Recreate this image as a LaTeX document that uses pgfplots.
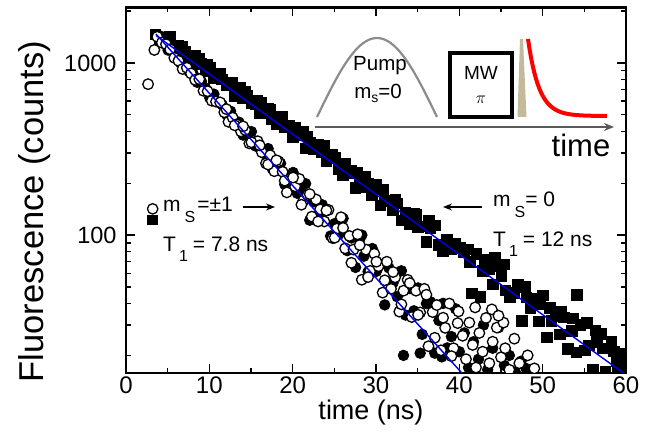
\documentclass[border=0pt]{standalone}
\usepackage{pgfplots}
\pgfplotsset{compat=1.18}
\usepackage{fontspec}
\setmainfont{Liberation Sans}
\usetikzlibrary{arrows.meta}
\definecolor{fitblue}{RGB}{0,0,235}
\definecolor{pumpgray}{RGB}{140,140,140}
\definecolor{spikecol}{RGB}{195,185,155}
\newcommand{\fs}[1]{\fontsize{#1}{#1}\selectfont}
\begin{document}
\begin{tikzpicture}[x=1pt,y=1pt]
\useasboundingbox (-126,-66) rectangle (525,373);
\begin{axis}[
  at={(0,0)}, anchor=south west,
  scale only axis, width=500pt, height=365.5pt,
  xmin=0, xmax=60, ymode=log, ymin=15.8, ymax=2100,
  xtick={0,10,20,30,40,50,60}, minor xtick={5,15,25,35,45,55},
  ytick={100,1000}, yticklabels={100,1000},
  minor ytick={20,30,40,50,60,70,80,90,200,300,400,500,600,700,800,900,2000},
  tick align=inside, tick pos=both,
  major tick length=9pt, minor tick length=5pt,
  every tick/.append style={black, line width=1.5pt},
  every minor tick/.append style={black, line width=1.3pt},
  axis line style={line width=2.2pt},
  /pgf/number format/assume math mode=true,
  xticklabel style={font=\fs{24}},
  yticklabel style={font=\fs{23.5}, xshift=-6pt},
  clip marker paths=true,
]
% m_S = 0 (squares)
\addplot[only marks, mark=square*, mark size=5.3pt, mark options={fill=black, draw=black, line width=0.2pt}] coordinates {
(3.5,1470)(4.0,1359)(4.5,1412)(5.0,1385)(5.5,1264)(6.0,1196)(6.5,1182)(7.0,1174)(7.5,1035)(8.0,1062)
(8.5,998)(9.0,992)(9.5,905)(10.0,944)(10.5,817)(11.0,821)(11.5,805)(12.0,743)(12.5,754)(13.0,648)
(13.5,681)(14.0,624)(14.5,651)(15.0,587)(15.5,576)(16.0,516)(16.5,545)(17.0,542)(17.5,473)(18.0,445)
(18.5,467)(19.0,427)(19.5,435)(20.0,374)(20.5,387)(21.0,380)(21.5,320)(22.0,345)(22.5,317)(23.0,337)
(23.5,305)(24.0,269)(24.5,289)(25.0,282)(25.5,242)(26.0,224)(26.5,230)(27.0,238)(27.5,188)(28.0,210)
(28.5,192)(29.0,199)(29.5,171)(30.0,197)(30.5,149)(31.0,159)(31.5,160)(32.0,141)(32.5,153)(33.0,122)
(33.5,135)(34.0,116)(34.5,134)(35.0,112)(35.5,113)(36.0,92)(36.5,110)(37.0,114)(37.5,88)(38.0,81)
(38.5,95)(39.0,83)(39.5,90)(40.0,85)(40.5,80)(41.0,83)(41.5,46)(42.0,78)(42.5,44)(43.0,72)
(43.5,64)(44.0,52)(44.5,66)(45.0,58)(45.5,48)(46.0,44)(46.5,46.4)(47.0,51.8)(47.5,31.8)(48.0,43.7)
(48.5,37.7)(49.0,42.8)(49.5,31.7)(50.0,44.8)(50.5,25.6)(51.0,31.8)(51.5,33.8)(52.0,26.6)(52.5,33.4)(53.0,21.9)
(53.5,27.9)(54.0,20.9)(54.5,30.3)(55.0,21.5)(55.5,23.0)(56.0,16.5)(56.5,24)(57.0,26.7)(57.5,16.2)(58.0,14.5)
(58.5,21.2)(59.0,16.3)(59.5,20.4)(60.0,15.5)
(41.2,70)(42.8,62)(44.2,74)(45.3,68)(47.8,50)(49.6,40)(50.8,38)(52.2,36)(53.6,33)(54.1,45)
(55.3,31)(56.3,28)(57.2,22)(58.2,24)(58.8,18.5)(59.6,17)(60.0,19)
(6.2,1260)(8.7,1060)(11.2,870)(13.7,720)(16.2,590)(18.7,490)(21.2,400)(23.7,330)(26.2,260)(28.7,218)
(5.25,1418)(6.75,1256)(8.25,1113)(9.75,987)(11.25,875)(12.75,775)(14.25,687)(15.75,609)(17.25,540)(18.75,478)
(20.25,424)(21.75,375)(23.25,333)(24.75,295)(26.25,261)(27.75,231)(30.8,185)(32.3,162)(34.8,132)(36.3,121)
};
% m_S = +-1, second set (filled circles)
\addplot[only marks, mark=*, mark size=5.3pt, mark options={fill=black, draw=black, line width=0.8pt}] coordinates {
(4.05,1437)(4.55,1305)(5.05,1188)(5.55,1185)(6.05,1100)(6.55,1000)(7.05,1015)(7.55,893)(8.05,868)(8.55,772)
(9.05,780)(9.55,713)(10.05,627)(10.55,659)(11.05,592)(11.55,571)(12.05,503)(12.55,524)(13.05,454)(13.55,453)
(14.05,381)(14.55,394)(15.05,399)(15.55,329)(16.05,326)(16.55,298)(17.05,318)(17.55,243)(18.05,269)(18.55,261)
(19.05,197)(19.55,217)(20.05,231)(20.55,175)(21.05,177)(21.55,199)(22.05,122)(22.55,156)(23.05,130)(23.55,150)
(24.05,139)(24.55,98.8)(25.05,116.6)(25.55,101)(26.05,125)(26.55,81.2)(27.05,96.2)(27.55,64.9)(28.05,94.4)(28.55,75.4)
(29.05,61.2)(29.55,83.5)(30.05,61.6)(30.55,67.6)(31.05,39.3)(31.55,64.5)(32.05,52.8)(32.55,43.8)(33.05,62)(33.55,34.3)
(34.05,48.9)(34.55,36.3)(35.05,49.3)(35.55,26.5)(36.05,40.0)(36.55,40.9)(37.05,20.6)(37.55,31.9)(38.05,40.1)(38.55,22.1)
(39.05,25.7)(39.55,37.3)
(40.0,21)(40.6,27)(41.1,17)(41.7,24)(42.3,19)(42.9,30)(43.4,16.5)(44.0,22)(44.7,29)(45.4,17.5)
(46.0,20)(46.7,16)(47.4,18.5)(48.0,16.8)(37.9,19.6)(35.3,20.6)(28.3,100)(33.3,20)
};
% m_S = +-1 (open circles)
\addplot[only marks, mark=*, mark size=5.3pt, mark options={fill=white, draw=black, line width=1.3pt}] coordinates {
(2.65,753)(3.4,1190)(3.75,1420)(4.3,1312)(4.8,1286)(5.3,1201)(5.8,1071)(6.3,1029)(6.8,922)(7.3,938)
(7.8,869)(8.3,797)(8.8,805)(9.3,689)(9.8,685)(10.3,603)(10.8,596)(11.3,590)(11.8,517)(12.3,455)
(12.8,481)(13.3,440)(13.8,400)(14.3,408)(14.8,341)(15.3,352)(15.8,351)(16.3,303)(16.8,261)(17.3,291)
(17.8,235)(18.3,268)(18.8,233)(19.3,177)(19.8,214)(20.3,192)(20.8,212)(21.3,159)(21.8,171)(22.3,128)
(22.8,161)(23.3,141)(23.8,120)(24.3,140)(24.8,96)(25.3,109)(25.8,127)(26.3,83.7)(26.8,98.8)(27.3,82.4)
(27.8,101)(28.3,55)(28.8,82.3)(29.3,61.9)(29.8,77.9)(30.3,65.9)(30.8,46.3)(31.3,70)(31.8,48.7)(32.3,56.8)
(32.8,35.9)(33.3,47.5)(33.8,54.9)(34.3,33.4)(34.8,47.5)(35.3,35.5)(35.8,48.7)(36.3,22.6)(36.8,35.7)(37.3,39.2)
(37.8,21.4)(38.3,28.9)(38.8,40)(39.3,22.0)(39.8,30.8)
(12.05,539)(13.05,434)(14.05,428)(15.05,346)(16.05,332)(17.05,257)(18.05,272)(19.05,207)(20.05,216)(21.05,150)
(22.05,173)(23.05,120)(24.05,139)(25.05,96.5)(26.05,110)(27.05,69)(28.05,87.5)(29.05,57)(30.05,70)(31.05,54.6)
(32.05,61)(33.05,39.6)(34.05,52.6)(35.05,34.4)(36.05,45)(37.05,25.3)(38.05,33.1)(39.05,19.8)
(40.4,26)(40.8,19)(41.2,31)(41.6,23)(42.0,17)(42.4,27)(42.8,21)(43.2,33)(43.6,18)(44.0,24)
(44.5,29)(45.0,19.5)(45.5,22)(46.0,16.5)(46.6,25)(47.2,18)(39.9,36)(41.9,38)(43.9,37)(45.3,31)
(44.7,34)(49.0,16.8)(48.2,20)
};
% legend symbols
\addplot[only marks, mark=square*, mark size=4.6pt, mark options={fill=black, draw=black}] coordinates {(3.15,123)};
\addplot[only marks, mark=*, mark size=5.2pt, mark options={fill=white, draw=black, line width=1.3pt}] coordinates {(3.2,142)};
% fits
\addplot[fitblue, line width=1.4pt] coordinates {(3.6,1445)(60,15.4)};
\addplot[fitblue, line width=1.4pt] coordinates {(3.6,1470)(40.3,15.8)};
\end{axis}
% axis labels
\node[rotate=90, font=\fs{34.5}] at (-91,161.5) {Fluorescence (counts)};
\node[font=\fs{27}] at (245,-40) {time (ns)};
% annotations
\node[anchor=base west, inner sep=0, font=\fs{21}] at (37,161) {m\hspace{4pt}\raisebox{-11pt}{\fs{16}S}\hspace{2pt}=±1};
\draw[-{Stealth[length=9pt,width=7pt]}, line width=1.3pt] (117,166) -- (149,166);
\node[anchor=base west, inner sep=0, font=\fs{21}] at (37,121) {T\hspace{3pt}\raisebox{-10pt}{\fs{16}1}\hspace{5pt}= 7.8 ns};
\node[anchor=base west, inner sep=0, font=\fs{21}] at (367,166) {m\hspace{4pt}\raisebox{-11pt}{\fs{16}S}= 0};
\draw[-{Stealth[length=9pt,width=7pt]}, line width=1.3pt] (356,166) -- (317,166);
\node[anchor=base west, inner sep=0, font=\fs{21}] at (367,126) {T\hspace{3pt}\raisebox{-10pt}{\fs{16}1}\hspace{5pt}= 12 ns};
% inset
\draw[pumpgray, line width=2.2pt] plot[domain=0:180, samples=40] ({191+\x/1.5}, {256+79*sin(\x)});
\node[font=\fs{20.5}] at (254,307) {Pump};
\node[font=\fs{20.5}] at (252,280) {m\raisebox{-4pt}{\fs{14}s}=0};
\draw[black, line width=3.5pt] (324,256) rectangle (386,320);
\node[font=\fs{19}] at (355,300) {MW};
\node[font=\fs{16}] at (355,273) {$\pi$};
\fill[spikecol] (391.5,256) -- (400.5,256) -- (397,334) -- (394,334) -- cycle;
\draw[red, line width=4pt] plot[domain=402:481, samples=50] (\x, {257+77*exp(-(\x-402)/11)});
\draw[black!65, line width=2pt, -{Stealth[length=10pt,width=8pt]}] (189,246) -- (488,246);
\node[font=\fs{31}] at (455,228) {time};
\end{tikzpicture}
\end{document}
